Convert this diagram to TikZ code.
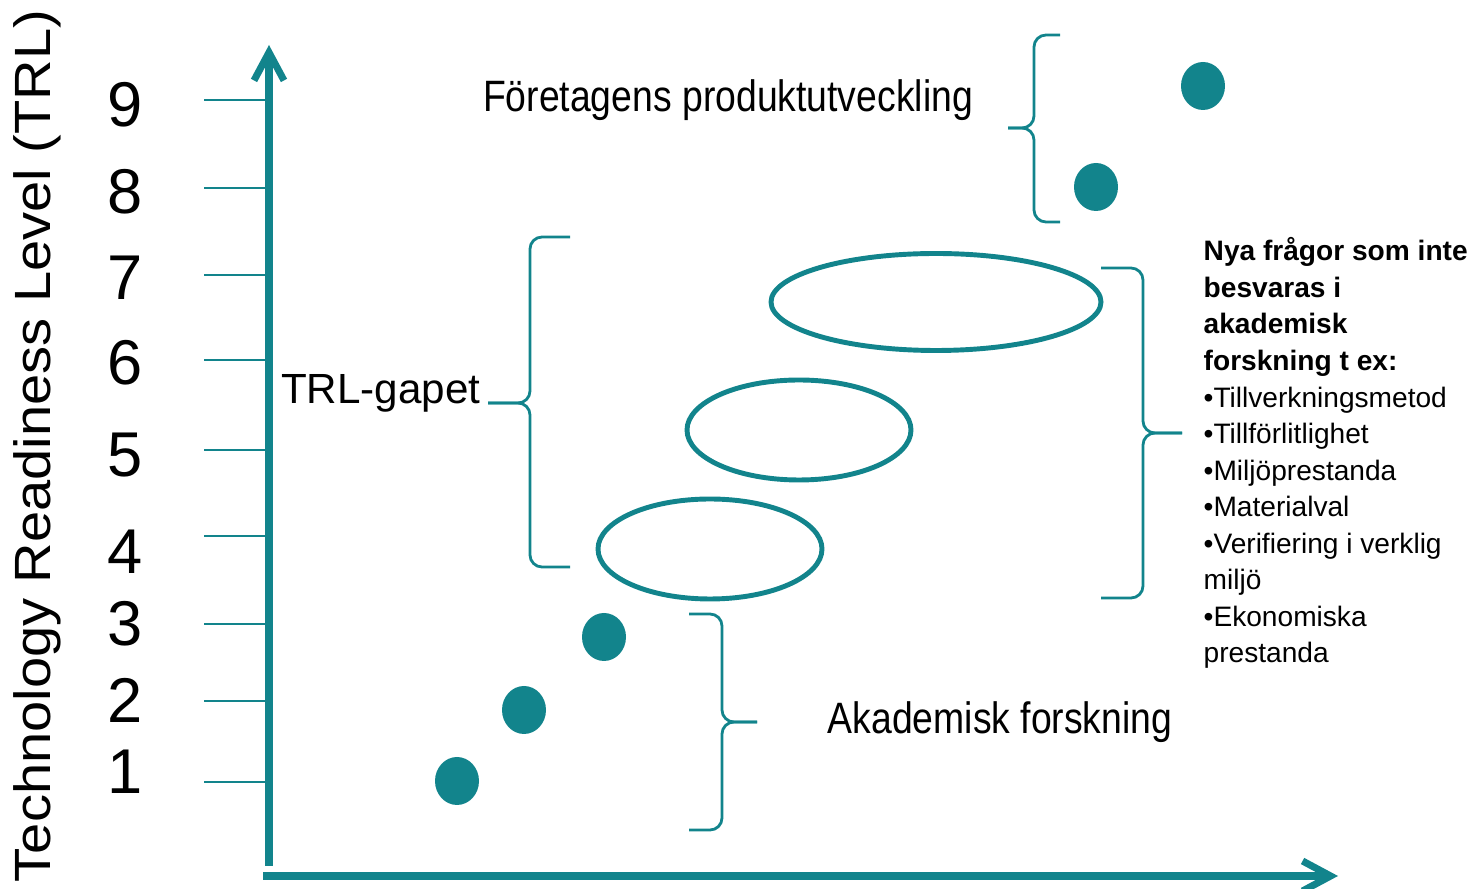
\documentclass[tikz,border=0pt]{standalone}
\usepackage{fontspec}
\setmainfont{Liberation Sans}
\newfontfamily\narrowfont[FakeStretch=0.85]{Liberation Sans}
\newfontfamily\axisfont[FakeStretch=1.1]{Liberation Sans}
\usepackage{tikz}
\usetikzlibrary{arrows.meta, positioning, shapes.geometric}

\definecolor{trlteal}{RGB}{18,132,140}

\begin{document}
\begin{tikzpicture}[x=0.1mm, y=-0.1mm,
    axis/.style={line width=2pt, trlteal, -{Straight Barb[length=2.8mm, width=3mm]}},
    tick/.style={line width=0.8pt, trlteal},
    level/.style={inner sep=0, font=\fontsize{18}{20}\selectfont},
    dot/.style={ellipse, fill=trlteal, inner sep=0, minimum width=4.4mm, minimum height=4.8mm},
    ring/.style={ellipse, draw=trlteal, line width=1.4pt, inner sep=0},
    bracket/.style={trlteal, line width=0.8pt, rounded corners=1.2mm},
    bigtext/.style={inner sep=0, font=\narrowfont\fontsize{12.5}{15}\selectfont}]

\useasboundingbox (0,0) rectangle (1470,889);

% Draw the axes
\coordinate (origin) at (269,866);
\coordinate (ytip) at (269,45);
\coordinate (xstart) at (263,876);
\coordinate (xtip) at (1338,876);
\draw[axis] (origin) -- (ytip);
\draw[axis] (xstart) -- (xtip);

% Levels and ticks
\foreach \lvl/\ty/\ny in {9/100/105, 8/188/192, 7/275/278, 6/360/363, 5/450/455, 4/536/552, 3/624/624, 2/701/700, 1/782/772} {
  \draw[tick] (204,\ty) -- (269,\ty);
  \node[level] (lvl\lvl) at (125,\ny) {\lvl};
}

% Axis title
\node[rotate=90, inner sep=0, font=\axisfont\fontsize{14.5}{16}\selectfont] (trlaxis) at (37,446) {Technology Readiness Level (TRL)};

% Dots
\node[dot] (dot1) at (457,781) {};
\node[dot] (dot2) at (524,710) {};
\node[dot] (dot3) at (604,637) {};
\node[dot] (dot8) at (1096,187) {};
\node[dot] (dot9) at (1203,86) {};

% Rings for the gap
\node[ring, minimum width=22.4mm, minimum height=10mm] (ring4) at (710,549) {};
\node[ring, minimum width=22.4mm, minimum height=10mm] (ring5) at (799,430) {};
\node[ring, minimum width=33mm, minimum height=9.7mm] (ring6) at (936,302) {};

% Labels
\node[bigtext] (foretag) at (728,100) {Företagens produktutveckling};
\node[anchor=east, inner sep=0, font=\fontsize{12}{14}\selectfont] (gapet) at (481,393) {TRL-gapet};
\node[bigtext] (akademisk) at (1000,722) {Akademisk forskning};
\node[anchor=north west, align=left, inner sep=0, font=\fontsize{8}{10.4}\selectfont] (fragor) at (1203,237)
  {\textbf{Nya frågor som inte}\\\textbf{besvaras i}\\\textbf{akademisk}\\\textbf{forskning t ex:}\\
   •Tillverkningsmetod\\•Tillförlitlighet\\•Miljöprestanda\\•Materialval\\
   •Verifiering i verklig\\miljö\\•Ekonomiska\\prestanda};

% Braces
\coordinate (foretagtip) at (1008,128);
\draw[bracket] (1060,35) -- (1034,35) -- (1034,128) -- (foretagtip);
\draw[bracket] (foretagtip) -- (1034,128) -- (1034,222) -- (1060,222);

\coordinate (gapettip) at (488,403);
\draw[bracket] (570,237) -- (530,237) -- (530,403) -- (gapettip);
\draw[bracket] (gapettip) -- (530,403) -- (530,567) -- (570,567);

\coordinate (fragortip) at (1182,433);
\draw[bracket] (1101,268) -- (1143,268) -- (1143,433) -- (fragortip);
\draw[bracket] (fragortip) -- (1143,433) -- (1143,598) -- (1101,598);

\coordinate (akademisktip) at (757,722);
\draw[bracket] (689,614) -- (722,614) -- (722,722) -- (akademisktip);
\draw[bracket] (akademisktip) -- (722,722) -- (722,830) -- (689,830);

\end{tikzpicture}
\end{document}
